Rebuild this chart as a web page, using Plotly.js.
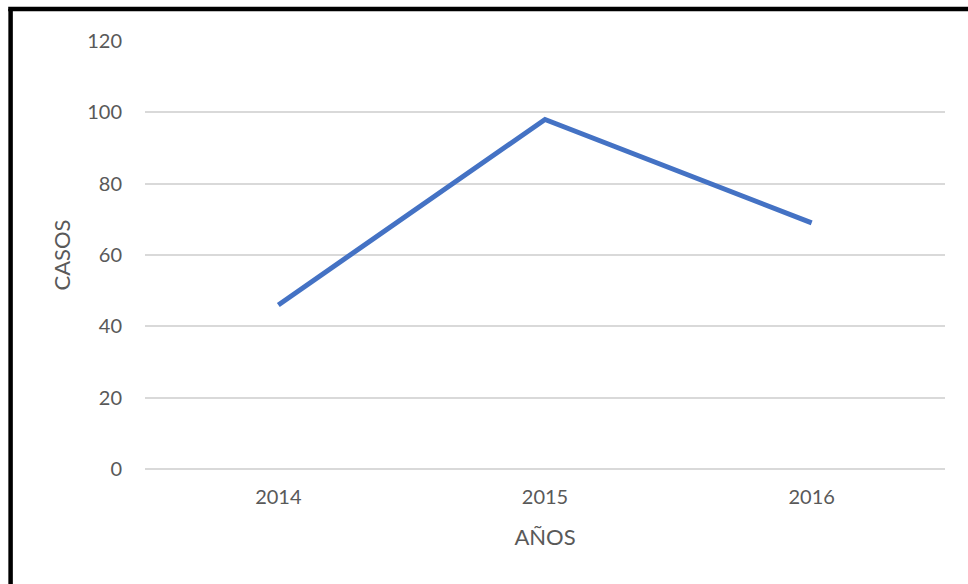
<!DOCTYPE html>
<html>
<head>
<meta charset="utf-8">
<script src="https://cdn.plot.ly/plotly-3.0.1.min.js"></script>
<style>html,body{margin:0;padding:0;background:#fff;}#chart{width:968px;height:584px;}</style>
</head>
<body>
<div id="chart"></div>
<script>
const years = ['2014', '2015', '2016'];
const casos = [46, 98, 69];
const yTicks = [0, 20, 40, 60, 80, 100, 120];

const trace = {
  x: years,
  y: casos,
  type: 'scatter',
  mode: 'lines',
  line: {color: '#4472C4', width: 5},
  hoverinfo: 'x+y'
};

const font = {family: 'Lato, "Open Sans", sans-serif', color: '#595959', size: 20};
const titleFont = {family: 'Lato, "Open Sans", sans-serif', color: '#595959', size: 22};

const layout = {
  width: 968, height: 584,
  margin: {l: 145, r: 23, t: 41, b: 115},
  paper_bgcolor: '#ffffff', plot_bgcolor: '#ffffff',
  showlegend: false,
  font: font,
  xaxis: {
    type: 'category',
    range: [-0.5, 2.5],
    showgrid: false, zeroline: false, showline: false,
    ticks: '', tickfont: font, ticklabelstandoff: 14,
    title: {text: 'AÑOS', font: titleFont, standoff: 22}
  },
  yaxis: {
    range: [0, 120],
    tickvals: yTicks,
    showgrid: true, gridcolor: '#d9d9d9', gridwidth: 2,
    zeroline: true, zerolinecolor: '#d9d9d9', zerolinewidth: 2,
    showline: false, ticks: '', tickfont: font, ticklabelstandoff: 22,
    title: {text: 'CASOS', font: titleFont, standoff: 10}
  },
  shapes: [
    {type: 'line', xref: 'paper', yref: 'paper', x0: -0.168, x1: -0.168, y0: -0.4, y1: 1.075, line: {color: '#000', width: 4.5}},
    {type: 'line', xref: 'paper', yref: 'paper', x0: -0.171, x1: 1.1, y0: 1.075, y1: 1.075, line: {color: '#000', width: 4.5}}
  ]
};

Plotly.newPlot('chart', [trace], layout, {displayModeBar: false, staticPlot: true});
</script>
</body>
</html>
